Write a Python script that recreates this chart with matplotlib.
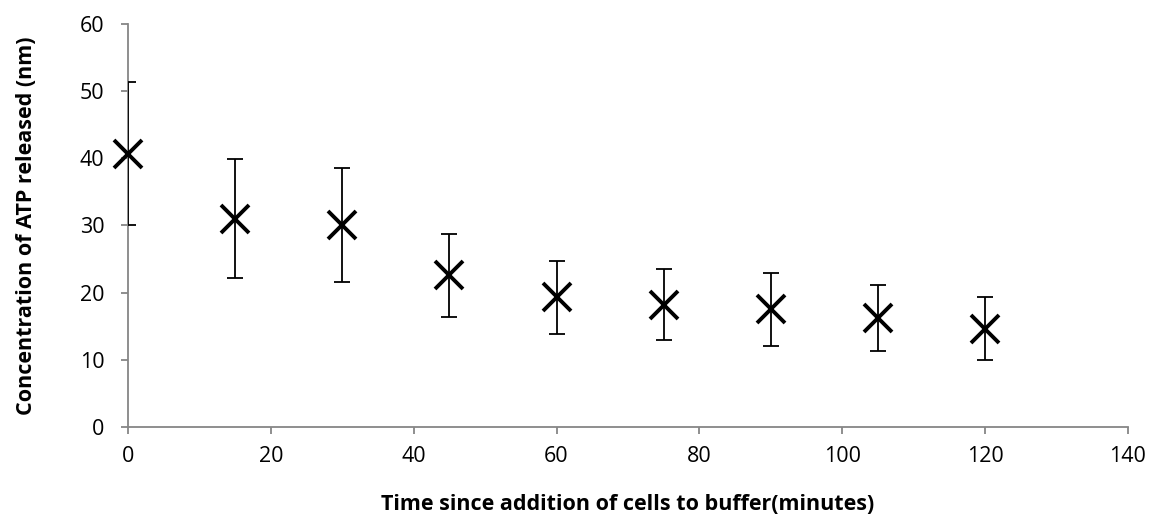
import matplotlib.pyplot as plt

plt.rcParams['font.family'] = ['Open Sans', 'DejaVu Sans']

time_min = [0, 15, 30, 45, 60, 75, 90, 105, 120]
atp_nm = [40.7, 31.0, 30.1, 22.6, 19.3, 18.2, 17.5, 16.2, 14.6]
atp_err = [10.6, 8.85, 8.5, 6.2, 5.4, 5.25, 5.4, 4.9, 4.7]

fig = plt.figure(figsize=(11.55, 5.14), dpi=100)
ax = fig.add_axes([0.1108, 0.1693, 0.8658, 0.784])

grey = '#868686'

# error bars (clipped at the axis like the original)
line, caps, bars = ax.errorbar(time_min, atp_nm, yerr=atp_err, fmt='none',
                               ecolor='black', elinewidth=1.3, capsize=5.5,
                               capthick=1.3, zorder=3)
for c in caps:
    c.set_clip_on(True)

# markers
ax.plot(time_min, atp_nm, linestyle='none', marker='x', color='black',
        markersize=20, markeredgewidth=2.8, clip_on=False, zorder=4)

ax.set_xlim(0, 140)
ax.set_ylim(0, 60)
ax.set_xticks(range(0, 141, 20))
ax.set_yticks(range(0, 61, 10))

for s in ['top', 'right']:
    ax.spines[s].set_visible(False)
for s in ['left', 'bottom']:
    ax.spines[s].set_color(grey)
    ax.spines[s].set_linewidth(1.3)

ax.tick_params(axis='both', direction='out', length=5, width=1.3, color=grey,
               labelsize=15.5, labelcolor='black')
ax.tick_params(axis='y', pad=12)
ax.tick_params(axis='x', pad=9)

ax.set_xlabel('Time since addition of cells to buffer(minutes)', fontsize=15.5,
              fontweight='bold', labelpad=19)
ax.set_ylabel('Concentration of ATP released (nm)', fontsize=15.5,
              fontweight='bold', labelpad=31)

fig.savefig('out.png', dpi=100)
